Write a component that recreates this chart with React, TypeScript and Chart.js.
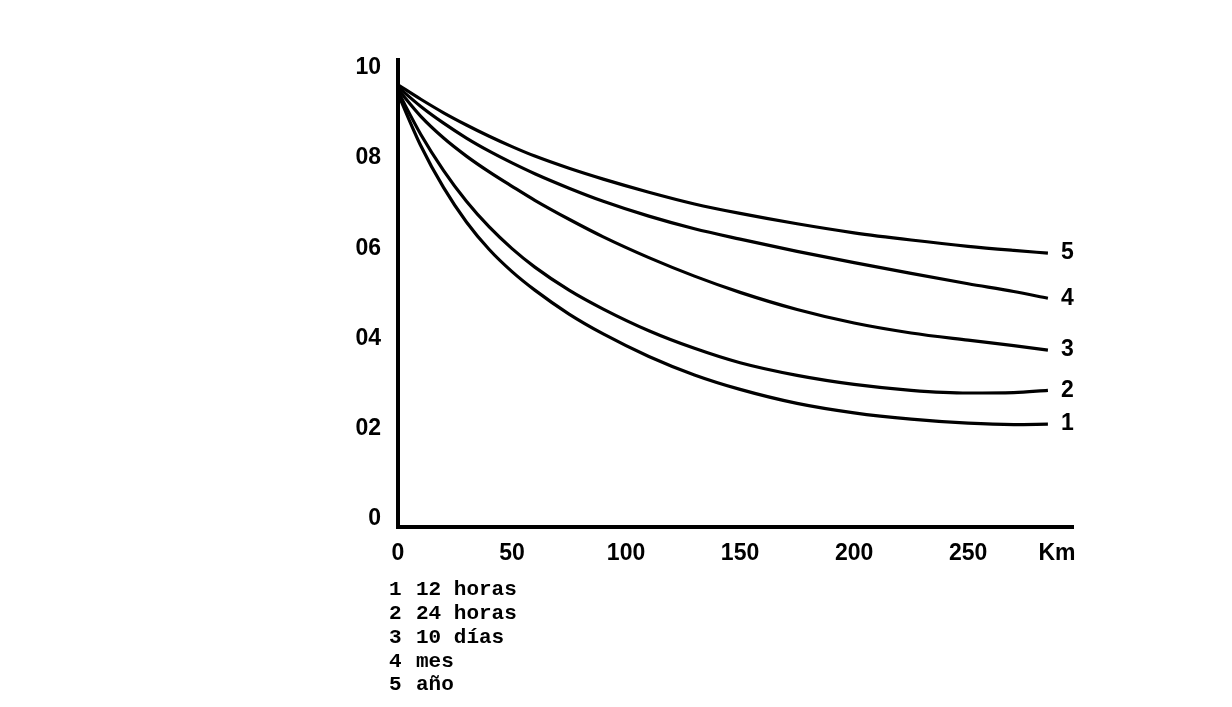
import React, { useEffect, useRef } from "react";
import { Chart, registerables } from "chart.js";

Chart.register(...registerables);

// Distance (km) at which each curve was read
const distanceKm = [0, 10, 20, 30, 40, 50, 60, 75, 90, 110, 130, 150, 175, 200, 225, 250, 270, 285];

// Curve values (relative)
const serie1 = [0.96, 0.845, 0.752, 0.676, 0.615, 0.566, 0.525, 0.472, 0.428, 0.378, 0.337, 0.305, 0.274, 0.253, 0.239, 0.23, 0.227, 0.228];
const serie2 = [0.965, 0.87, 0.79, 0.722, 0.665, 0.617, 0.576, 0.525, 0.483, 0.435, 0.396, 0.364, 0.336, 0.316, 0.303, 0.297, 0.298, 0.303];
const serie3 = [0.97, 0.91, 0.862, 0.822, 0.787, 0.755, 0.724, 0.682, 0.643, 0.597, 0.556, 0.52, 0.482, 0.452, 0.43, 0.414, 0.402, 0.392];
const serie4 = [0.975, 0.932, 0.895, 0.862, 0.833, 0.807, 0.783, 0.751, 0.722, 0.689, 0.661, 0.638, 0.611, 0.586, 0.562, 0.539, 0.522, 0.507];
const serie5 = [0.98, 0.948, 0.918, 0.891, 0.866, 0.843, 0.822, 0.795, 0.771, 0.742, 0.716, 0.695, 0.672, 0.652, 0.636, 0.622, 0.613, 0.607];

const curveLabels = ["1", "2", "3", "4", "5"];

const legendNumbers = ["1", "2", "3", "4", "5"];
const legendTexts = ["12 horas", "24 horas", "10 días", "mes", "año"];

const xTickValues = [0, 50, 100, 150, 200, 250, 289];
const xTickLabels = ["0", "50", "100", "150", "200", "250", "Km"];
const yTickValues = [0, 0.2, 0.4, 0.6, 0.8, 1.0];
const yTickLabels = ["0", "02", "04", "06", "08", "10"];

const allSeries = [serie1, serie2, serie3, serie4, serie5];

const SANS = '"Liberation Sans Narrow", "Liberation Sans", sans-serif';

const annotationPlugin = {
  id: "annotations",
  afterDatasetsDraw(chart: any) {
    const ctx = chart.ctx;
    const area = chart.chartArea;
    ctx.save();
    ctx.fillStyle = "#000";
    ctx.textBaseline = "middle";
    ctx.textAlign = "left";
    ctx.font = "bold 23px " + SANS;
    chart.data.datasets.forEach((_ds: any, i: number) => {
      const meta = chart.getDatasetMeta(i);
      const last = meta.data[meta.data.length - 1];
      ctx.fillText(curveLabels[i], last.x + 13, last.y);
    });
    ctx.font = 'bold 21px "Liberation Mono", monospace';
    legendTexts.forEach((t, i) => {
      const y = area.bottom + 63 + i * 23.8;
      ctx.fillText(legendNumbers[i], area.left - 9, y);
      ctx.fillText(t, area.left + 18, y);
    });
    ctx.restore();
  },
};

export default function App() {
  const canvasRef = useRef<HTMLCanvasElement | null>(null);

  useEffect(() => {
    const canvas = canvasRef.current;
    if (!canvas) return;
    const chart = new Chart(canvas, {
      type: "line",
      data: {
        datasets: allSeries.map((s, i) => ({
          label: curveLabels[i],
          data: distanceKm.map((x, j) => ({ x, y: s[j] })),
          borderColor: "#000",
          borderWidth: 3.2,
          pointRadius: 0,
          fill: false,
          cubicInterpolationMode: "monotone" as const,
          clip: false as any,
        })),
      },
      options: {
        responsive: false,
        animation: false,
        devicePixelRatio: 1,
        layout: { padding: { left: 338, top: 60, right: 159, bottom: 130 } },
        plugins: { legend: { display: false }, tooltip: { enabled: false } },
        scales: {
          x: {
            type: "linear",
            min: 0,
            max: 296,
            afterBuildTicks: (scale: any) => {
              scale.ticks = xTickValues.map((v) => ({ value: v }));
            },
            afterFit: (scale: any) => {
              scale.height = 50;
            },
            grid: { display: false, drawTicks: false },
            border: { display: true, color: "#000", width: 4 },
            ticks: {
              autoSkip: false,
              maxRotation: 0,
              padding: 13,
              color: "#000",
              font: { family: SANS, size: 23, weight: "bold" },
              callback: (_v: any, index: number) => xTickLabels[index],
            },
          },
          y: {
            type: "linear",
            min: 0,
            max: 1.035,
            afterBuildTicks: (scale: any) => {
              scale.ticks = yTickValues.map((v) => ({ value: v }));
            },
            afterFit: (scale: any) => {
              scale.width = 60;
            },
            grid: { display: false, drawTicks: false },
            border: { display: true, color: "#000", width: 4 },
            ticks: {
              autoSkip: false,
              padding: 17,
              labelOffset: -8,
              color: "#000",
              font: { family: SANS, size: 23, weight: "bold" },
              callback: (_v: any, index: number) => yTickLabels[index],
            },
          },
        },
      },
      plugins: [annotationPlugin],
    });
    return () => chart.destroy();
  }, []);

  return (
    <div style={{ position: "fixed", left: 0, top: 0, width: 1232, height: 707, background: "#fff" }}>
      <canvas ref={canvasRef} width={1232} height={707} style={{ display: "block" }} />
    </div>
  );
}
